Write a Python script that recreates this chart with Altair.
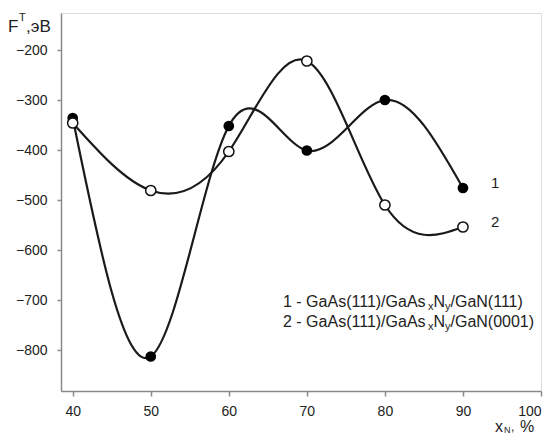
import altair as alt
import pandas as pd

# ---- data ----
x_vals = [40, 50, 60, 70, 80, 90]
series1 = [-336, -813, -352, -401, -300, -476]
series2 = [-346, -481, -403, -222, -510, -554]
x_ticks = [40, 50, 60, 70, 80, 90, 100]
y_ticks = [-800, -700, -600, -500, -400, -300, -200]
end_labels = ["1", "2"]
legend_parts_1 = [("1 - GaAs(111)/GaAs", "n"), ("x", "s"), ("N", "n"), ("y", "s"), ("/GaN(111)", "n")]
legend_parts_2 = [("2 - GaAs(111)/GaAs", "n"), ("x", "s"), ("N", "n"), ("y", "s"), ("/GaN(0001)", "n")]

W, H = 480, 378
FONT = "Liberation Sans"

rows = []
for name, vals in (("1", series1), ("2", series2)):
    for xv, yv in zip(x_vals, vals):
        rows.append({"x": xv, "y": yv, "s": name})
df = pd.DataFrame(rows)

xs = alt.Scale(domain=[38.5, 100], nice=False, zero=False)
ys = alt.Scale(domain=[-882, -126], nice=False, zero=False)

x_axis = alt.Axis(values=x_ticks, title=None, grid=False, tickSize=5, labelPadding=8,
                  domainColor="#8a8a8a", tickColor="#8a8a8a", domainWidth=1.5, tickWidth=1.5,
                  labelFont=FONT, labelFontSize=14, labelColor="#222")
y_axis = alt.Axis(values=y_ticks, title=None, grid=False, tickSize=4, labelPadding=10,
                  domainColor="#8a8a8a", tickColor="#8a8a8a", domainWidth=1.5, tickWidth=1.5,
                  labelFont=FONT, labelFontSize=14, labelColor="#222")

base = alt.Chart(df)
lines = base.mark_line(interpolate="natural", strokeWidth=2.2, color="#1a1a1a").encode(
    x=alt.X("x:Q", scale=xs, axis=x_axis),
    y=alt.Y("y:Q", scale=ys, axis=y_axis),
    detail="s:N",
)
pts1 = alt.Chart(df[df.s == "1"]).mark_point(shape="circle", filled=True, size=115,
                                             color="#000", opacity=1).encode(
    x=alt.X("x:Q", scale=xs), y=alt.Y("y:Q", scale=ys))
pts2 = alt.Chart(df[df.s == "2"]).mark_point(shape="circle", filled=True, size=105,
                                             fill="white", stroke="#111", strokeWidth=1.5,
                                             opacity=1).encode(
    x=alt.X("x:Q", scale=xs), y=alt.Y("y:Q", scale=ys))

# end labels "1" and "2"
end_df = pd.DataFrame({"t": end_labels, "px": [430, 430], "py": [175, 214]})
end_text = alt.Chart(end_df).mark_text(align="left", baseline="alphabetic", font=FONT,
                                       fontSize=15, color="#222").encode(
    x=alt.X("px:Q", scale=None), y=alt.Y("py:Q", scale=None), text="t:N")

# legend text with subscripts, laid out using Arial/Liberation metrics
widths = {"0": 556, "1": 556, "2": 556, " ": 278, "-": 333, "G": 778, "a": 556, "A": 667,
          "s": 500, "(": 333, ")": 333, "/": 278, "N": 722, "x": 500, "y": 500}
FS, SS = 16, 11
leg_rows = []
for parts, base_y in ((legend_parts_1, 294), (legend_parts_2, 314)):
    cx = 222.0
    for txt, kind in parts:
        fs = FS if kind == "n" else SS
        leg_rows.append({"t": txt, "px": cx, "py": base_y + (0 if kind == "n" else 3), "fs": fs})
        cx += sum(widths.get(c, 556) for c in txt) / 1000 * fs
leg_df = pd.DataFrame(leg_rows)
leg_text = alt.Chart(leg_df).mark_text(align="left", baseline="alphabetic", font=FONT,
                                       color="#222").encode(
    x=alt.X("px:Q", scale=None), y=alt.Y("py:Q", scale=None), text="t:N",
    size=alt.Size("fs:Q", scale=None))

# axis titles
title_rows = [
    {"t": "F", "px": -53, "py": 19, "fs": 17},
    {"t": "T", "px": -42, "py": 8, "fs": 11},
    {"t": ",эВ", "px": -35, "py": 19, "fs": 17},
    {"t": "x", "px": 434, "py": 419, "fs": 16},
    {"t": "N", "px": 443, "py": 420, "fs": 9},
    {"t": ",", "px": 450, "py": 418, "fs": 12},
    {"t": "%", "px": 459, "py": 419, "fs": 16},
]
title_df = pd.DataFrame(title_rows)
titles = alt.Chart(title_df).mark_text(align="left", baseline="alphabetic", font=FONT,
                                       color="#222").encode(
    x=alt.X("px:Q", scale=None), y=alt.Y("py:Q", scale=None), text="t:N",
    size=alt.Size("fs:Q", scale=None))

chart = alt.layer(lines, pts1, pts2, end_text, leg_text, titles).properties(
    width=W, height=H,
    autosize=alt.AutoSizeParams(type="none"),
    padding={"left": 53, "top": 5, "right": 6, "bottom": 44},
).configure_view(stroke=None).configure(background="white")

chart.save("out.html", embed_options={"renderer": "svg", "actions": False})
